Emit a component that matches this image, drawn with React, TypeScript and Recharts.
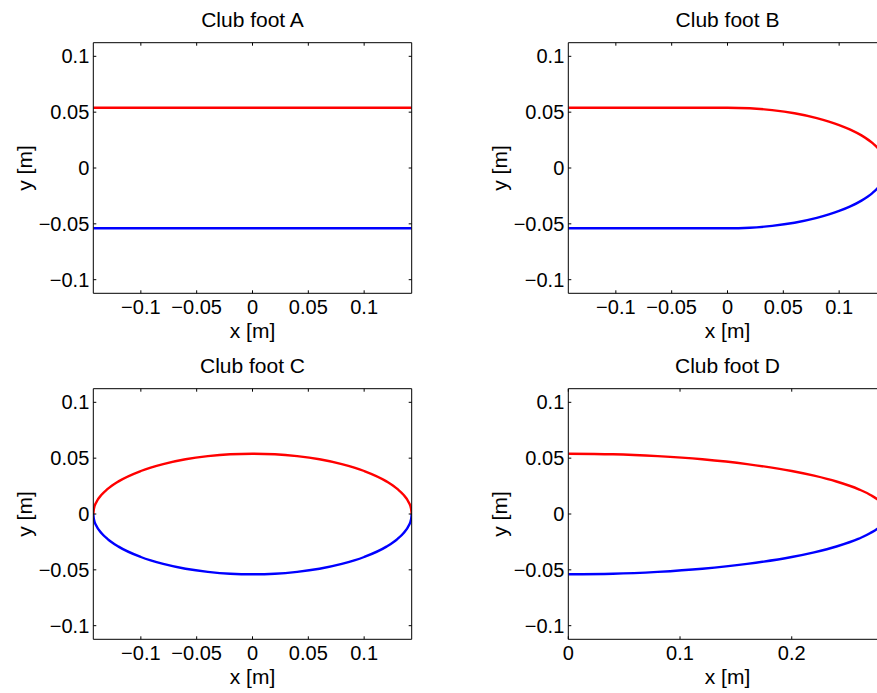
import React from "react";
import { LineChart, Line, XAxis, YAxis } from "recharts";

// tick values
const xTicksCentered = [-0.1, -0.05, 0, 0.05, 0.1];
const xTicksD = [0, 0.1, 0.2];
const yTicks = [-0.1, -0.05, 0, 0.05, 0.1];

// axis limits (axis equal)
const xLimCentered = [-0.1426, 0.1426];
const xLimD = [0, 0.285];
const yLim = [-0.1122, 0.1122];

// club foot A: flat
const footAX = [-0.1426, 0.1426];
const footAUpper = [0.054, 0.054];
const footALower = [-0.054, -0.054];

// club foot B: flat heel, rounded toe
const footBX = [-0.1426, 0, 0.02, 0.04, 0.06, 0.08, 0.1, 0.11, 0.12, 0.13, 0.135, 0.14, 0.1426];
const footBUpper = [0.054, 0.054, 0.0535, 0.0518, 0.049, 0.0447, 0.0385, 0.0344, 0.0292, 0.0222, 0.0174, 0.0103, 0];
const footBLower = [-0.054, -0.054, -0.0535, -0.0518, -0.049, -0.0447, -0.0385, -0.0344, -0.0292, -0.0222, -0.0174, -0.0103, 0];

// club foot C: full ellipse
const footCX = [
  -0.1426, -0.142, -0.14, -0.135, -0.13, -0.12, -0.1, -0.08, -0.06, -0.04, -0.02, 0,
  0.02, 0.04, 0.06, 0.08, 0.1, 0.12, 0.13, 0.135, 0.14, 0.142, 0.1426,
];
const footCUpper = [
  0, 0.005, 0.0103, 0.0174, 0.0222, 0.0292, 0.0385, 0.0447, 0.049, 0.0518, 0.0535, 0.054,
  0.0535, 0.0518, 0.049, 0.0447, 0.0385, 0.0292, 0.0222, 0.0174, 0.0103, 0.005, 0,
];
const footCLower = [
  0, -0.005, -0.0103, -0.0174, -0.0222, -0.0292, -0.0385, -0.0447, -0.049, -0.0518, -0.0535, -0.054,
  -0.0535, -0.0518, -0.049, -0.0447, -0.0385, -0.0292, -0.0222, -0.0174, -0.0103, -0.005, 0,
];

// club foot D: half ellipse, long
const footDX = [0, 0.04, 0.08, 0.12, 0.16, 0.2, 0.22, 0.24, 0.26, 0.27, 0.28, 0.284, 0.285];
const footDUpper = [0.054, 0.0535, 0.0518, 0.049, 0.0447, 0.0385, 0.0343, 0.0291, 0.0221, 0.0173, 0.0101, 0.0045, 0];
const footDLower = [-0.054, -0.0535, -0.0518, -0.049, -0.0447, -0.0385, -0.0343, -0.0291, -0.0221, -0.0173, -0.0101, -0.0045, 0];

const FONT = "'Liberation Sans', Arial, Helvetica, sans-serif";
const FS = 21; // titles, axis labels
const TICK_FS = 20;

const pts = (xs: number[], ys: number[]) => xs.map((x, i) => ({ x, y: ys[i] }));

const fmt = (v: number) => (v < 0 ? "\u2212" + String(-v) : String(v));

const BottomTick = (props: any) => {
  const { x, y, payload } = props;
  return (
    <g>
      <line x1={x} x2={x} y1={y} y2={y - 3} stroke="#000" />
      <text x={x} y={y + 21} textAnchor="middle" fontSize={TICK_FS} fontFamily={FONT} fill="#000">
        {fmt(payload.value)}
      </text>
    </g>
  );
};

const TopTick = (props: any) => {
  const { x, y } = props;
  return <line x1={x} x2={x} y1={y} y2={y + 3} stroke="#000" />;
};

const LeftTick = (props: any) => {
  const { x, y, payload } = props;
  return (
    <g>
      <line x1={x} x2={x + 3} y1={y} y2={y} stroke="#000" />
      <text x={x - 4} y={y + 7} textAnchor="end" fontSize={TICK_FS} fontFamily={FONT} fill="#000">
        {fmt(payload.value)}
      </text>
    </g>
  );
};

const RightTick = (props: any) => {
  const { x, y } = props;
  return <line x1={x} x2={x - 3} y1={y} y2={y} stroke="#000" />;
};

interface Series {
  name: string;
  color: string;
  data: { x: number; y: number }[];
}

function Panel({
  left,
  top,
  title,
  xDomain,
  xTicks,
  series,
}: {
  left: number;
  top: number;
  title: string;
  xDomain: number[];
  xTicks: number[];
  series: Series[];
}) {
  // axes are 1px thick so Recharts draws them; margins cover the rest
  return (
    <div style={{ position: "absolute", left, top, width: 440, height: 345 }}>
      <LineChart width={440} height={345} margin={{ top: 41.7, left: 92.3, right: 27.3, bottom: 50.7 }}>
        <XAxis
          type="number"
          dataKey="x"
          domain={xDomain}
          ticks={xTicks}
          allowDataOverflow
          height={1}
          tickSize={0}
          tickMargin={0}
          tickLine={false}
          stroke="#000"
          tick={<BottomTick />}
          interval={0}
        />
        <XAxis
          xAxisId="top"
          orientation="top"
          type="number"
          dataKey="x"
          domain={xDomain}
          ticks={xTicks}
          allowDataOverflow
          height={1}
          tickSize={0}
          tickMargin={0}
          tickLine={false}
          stroke="#000"
          tick={<TopTick />}
          interval={0}
        />
        <YAxis
          type="number"
          domain={yLim}
          ticks={yTicks}
          allowDataOverflow
          width={1}
          tickSize={0}
          tickMargin={0}
          tickLine={false}
          stroke="#000"
          tick={<LeftTick />}
          interval={0}
        />
        <YAxis
          yAxisId="right"
          orientation="right"
          type="number"
          domain={yLim}
          ticks={yTicks}
          allowDataOverflow
          width={1}
          tickSize={0}
          tickMargin={0}
          tickLine={false}
          stroke="#000"
          tick={<RightTick />}
          interval={0}
        />
        {series.map((s) => (
          <Line
            key={s.name}
            name={s.name}
            data={s.data}
            dataKey="y"
            type="monotone"
            stroke={s.color}
            strokeWidth={2.4}
            dot={false}
            activeDot={false}
            isAnimationActive={false}
          />
        ))}
      </LineChart>
      <svg
        width={440}
        height={345}
        style={{ position: "absolute", left: 0, top: 0, pointerEvents: "none" }}
      >
        <text x={252.5} y={26.7} textAnchor="middle" fontSize={FS} fontFamily={FONT} fill="#000">
          {title}
        </text>
        <text x={252.5} y={337.6} textAnchor="middle" fontSize={FS} fontFamily={FONT} fill="#000">
          x [m]
        </text>
        <text
          x={31.5}
          y={168}
          textAnchor="middle"
          fontSize={FS}
          fontFamily={FONT}
          fill="#000"
          transform="rotate(-90 31.5 168)"
        >
          y [m]
        </text>
      </svg>
    </div>
  );
}

export default function App() {
  return (
    <div
      style={{
        position: "absolute",
        left: 0,
        top: 0,
        width: 877,
        height: 693,
        overflow: "hidden",
        background: "#fff",
      }}
    >
      <Panel
        left={0}
        top={0}
        title="Club foot A"
        xDomain={xLimCentered}
        xTicks={xTicksCentered}
        series={[
          { name: "upper", color: "#ff0000", data: pts(footAX, footAUpper) },
          { name: "lower", color: "#0000ff", data: pts(footAX, footALower) },
        ]}
      />
      <Panel
        left={475}
        top={0}
        title="Club foot B"
        xDomain={xLimCentered}
        xTicks={xTicksCentered}
        series={[
          { name: "upper", color: "#ff0000", data: pts(footBX, footBUpper) },
          { name: "lower", color: "#0000ff", data: pts(footBX, footBLower) },
        ]}
      />
      <Panel
        left={0}
        top={345.7}
        title="Club foot C"
        xDomain={xLimCentered}
        xTicks={xTicksCentered}
        series={[
          { name: "upper", color: "#ff0000", data: pts(footCX, footCUpper) },
          { name: "lower", color: "#0000ff", data: pts(footCX, footCLower) },
        ]}
      />
      <Panel
        left={475}
        top={345.7}
        title="Club foot D"
        xDomain={xLimD}
        xTicks={xTicksD}
        series={[
          { name: "upper", color: "#ff0000", data: pts(footDX, footDUpper) },
          { name: "lower", color: "#0000ff", data: pts(footDX, footDLower) },
        ]}
      />
    </div>
  );
}
